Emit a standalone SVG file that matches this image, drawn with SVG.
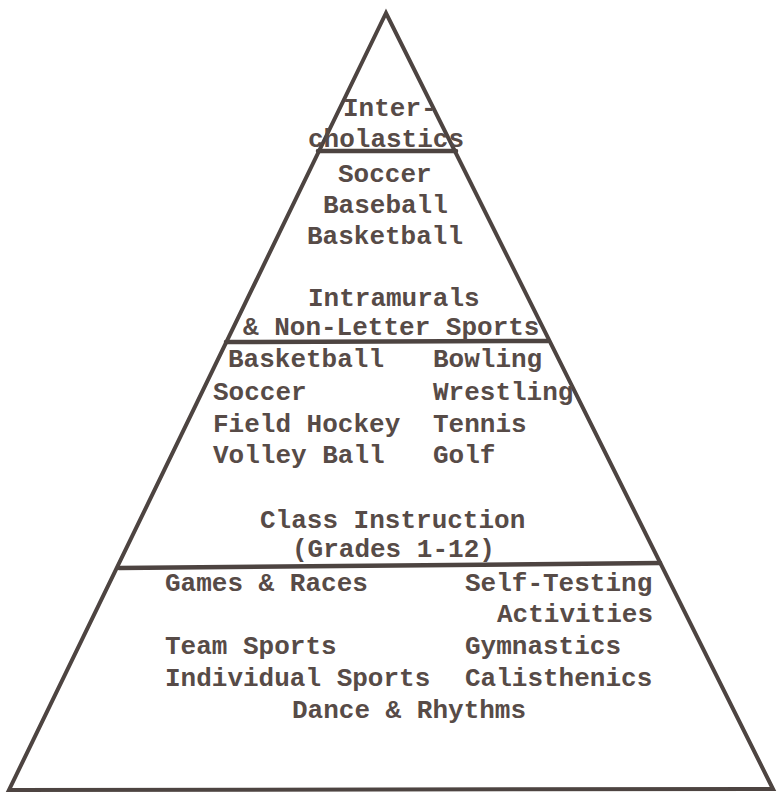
<svg xmlns="http://www.w3.org/2000/svg" width="777" height="803" viewBox="0 0 777 803">
<style>
.bg{fill:#ffffff}
.edge{fill:none;stroke:#4d4441;stroke-width:4;stroke-linejoin:miter;stroke-linecap:round}
.div{stroke:#4d4441;stroke-width:4.5;stroke-linecap:round}
text{font-family:"Liberation Mono","Courier New",monospace;font-size:26px;font-weight:bold;fill:#574b47}
</style>
<rect class="bg" x="0" y="0" width="777" height="803"/>
<g id="pyramid">
<polygon class="edge" points="386,13 9,790 773,789"/>
<line class="div" x1="318" y1="151" x2="456" y2="151"/>
<line class="div" x1="226" y1="342" x2="548" y2="341"/>
<line class="div" x1="119" y1="568" x2="660" y2="563"/>
</g>
<g id="tier-interscholastics">
<text x="343" y="116">Inter-</text>
<text x="308" y="147">cholastics</text>
</g>
<g id="tier-intramurals">
<text x="338" y="182">Soccer</text>
<text x="323" y="213">Baseball</text>
<text x="307" y="244">Basketball</text>
<text x="308" y="306">Intramurals</text>
<text x="243" y="335">&amp; Non-Letter Sports</text>
</g>
<g id="tier-class-instruction">
<text x="228" y="367">Basketball</text>
<text x="433" y="367">Bowling</text>
<text x="213" y="400">Soccer</text>
<text x="433" y="400">Wrestling</text>
<text x="213" y="432">Field Hockey</text>
<text x="433" y="432">Tennis</text>
<text x="213" y="463">Volley Ball</text>
<text x="433" y="463">Golf</text>
<text x="260" y="528">Class Instruction</text>
<text x="292" y="557">(Grades 1-12)</text>
</g>
<g id="tier-base">
<text x="165" y="591">Games &amp; Races</text>
<text x="465" y="591">Self-Testing</text>
<text x="497" y="622">Activities</text>
<text x="165" y="654">Team Sports</text>
<text x="465" y="654">Gymnastics</text>
<text x="165" y="686">Individual Sports</text>
<text x="465" y="686">Calisthenics</text>
<text x="292" y="718">Dance &amp; Rhythms</text>
</g>
</svg>
